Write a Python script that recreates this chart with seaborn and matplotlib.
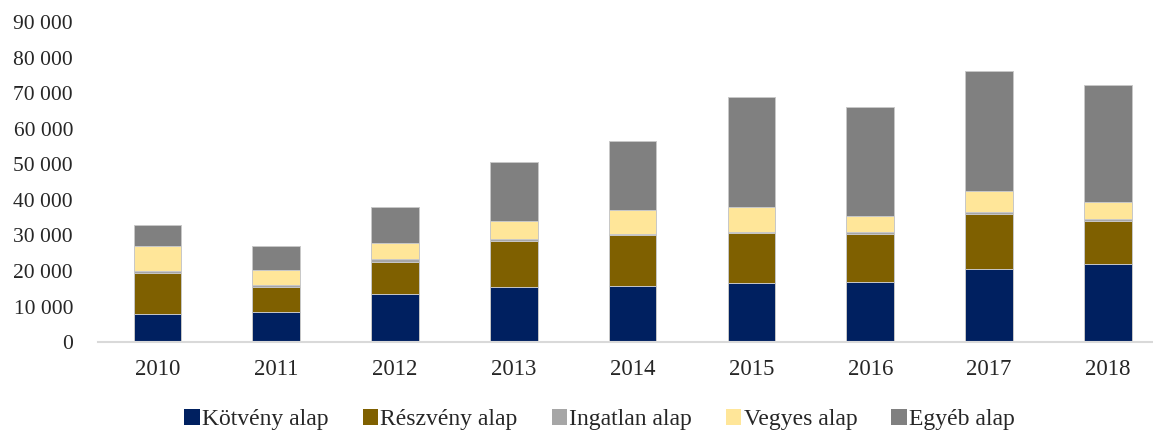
import pandas as pd
import matplotlib
matplotlib.use("Agg")
import matplotlib.pyplot as plt
from matplotlib.patches import Patch
from matplotlib.ticker import FuncFormatter
import seaborn as sns

# data
years = ["2010", "2011", "2012", "2013", "2014", "2015", "2016", "2017", "2018"]
kotveny = [7900, 8350, 13400, 15400, 15900, 16700, 17000, 20600, 21900]
reszveny = [11600, 7200, 9200, 13100, 14100, 13900, 13300, 15300, 12200]
ingatlan = [550, 550, 700, 550, 500, 400, 600, 700, 500]
vegyes = [6950, 4300, 4700, 5150, 6700, 6900, 4700, 5900, 4800]
egyeb = [5900, 6600, 10000, 16500, 19300, 31000, 30400, 33800, 32800]

names = ["Kötvény alap", "Részvény alap", "Ingatlan alap", "Vegyes alap", "Egyéb alap"]
colors = ["#002060", "#7F6000", "#A6A6A6", "#FFE699", "#808080"]

df = pd.DataFrame({"ev": years, names[0]: kotveny, names[1]: reszveny,
                   names[2]: ingatlan, names[3]: vegyes, names[4]: egyeb})

sns.set_style("white")
plt.rcParams["font.family"] = ["Liberation Serif", "DejaVu Serif"]

fig = plt.figure(figsize=(11.53, 4.32), dpi=100)
ax = fig.add_axes([0.085, 0.208, 0.915, 0.741])

# stacked bars: draw cumulative sums, tallest first
cum = df[names].cumsum(axis=1)
for i in range(len(names) - 1, -1, -1):
    sns.barplot(x=df["ev"], y=cum[names[i]], color=colors[i], width=0.4,
                edgecolor="#C8C8C8", linewidth=0.7, saturation=1, ax=ax)

ax.set_ylim(0, 90000)
ax.set_xlim(-0.5, 8.38)
ax.set_yticks(range(0, 90001, 10000))
ax.yaxis.set_major_formatter(FuncFormatter(lambda v, p: f"{int(v):,}".replace(",", " ")))
ax.set_xlabel("")
ax.set_ylabel("")
for s in ["top", "right", "left"]:
    ax.spines[s].set_visible(False)
ax.spines["bottom"].set_color("#D9D9D9")
ax.spines["bottom"].set_linewidth(1.5)
ax.tick_params(axis="y", length=0, pad=18, labelsize=15.5)
ax.tick_params(axis="x", length=0, pad=12, labelsize=16.5)

handles = [Patch(facecolor=c, edgecolor="none") for c in colors]
fig.legend(handles, names, loc="center", bbox_to_anchor=(0.52, 0.028), ncol=5,
           frameon=False, fontsize=17, handlelength=0.64, handleheight=0.64,
           handletextpad=0.1, columnspacing=1.45, borderpad=0, borderaxespad=0)

fig.savefig("out.png", dpi=100)
